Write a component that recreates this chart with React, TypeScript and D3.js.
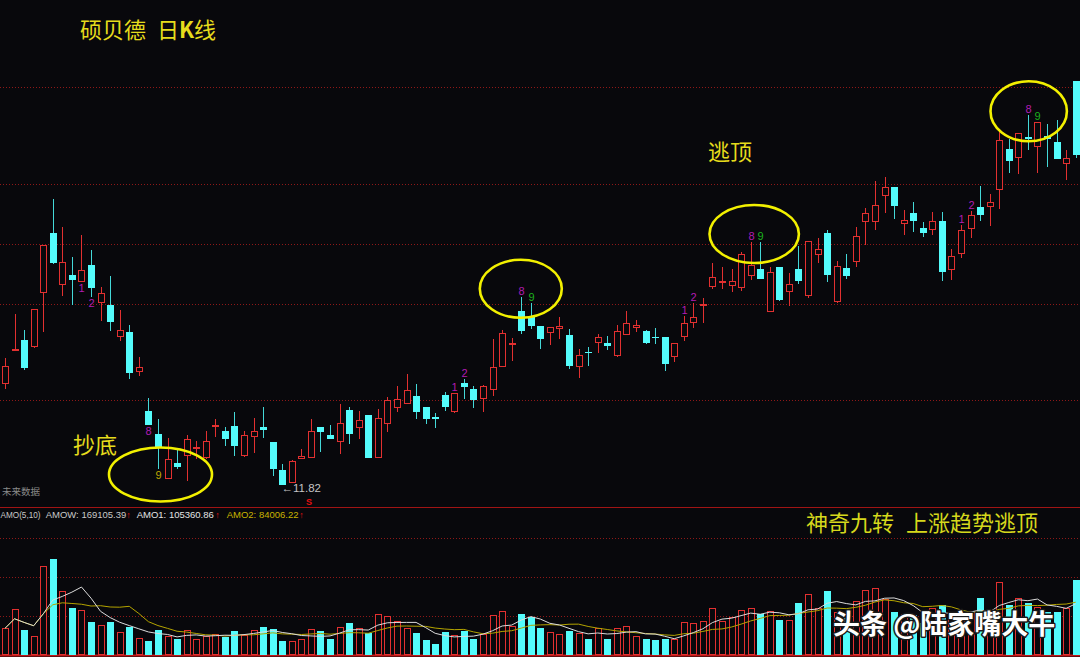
import React from 'react';
import * as d3 from 'd3';

const W = 1080;
const H = 657;

// daily OHLC (yuan), index 0..112
const opens = [15.87,17.18,17.62,17.36,19.50,21.90,19.82,20.23,19.96,20.62,19.10,19.02,17.76,17.95,16.36,14.78,13.87,12.06,12.72,12.99,13.26,12.92,14.15,14.00,14.19,13.00,13.74,14.16,13.54,12.42,11.92,12.86,12.90,14.16,13.82,13.54,14.83,14.12,14.64,12.90,14.26,14.91,15.07,15.38,14.96,14.54,15.43,14.75,15.90,15.66,15.26,15.62,16.56,17.42,18.80,18.60,18.20,17.90,18.08,17.82,16.54,17.15,17.50,17.50,17.00,17.83,18.12,17.98,17.74,17.74,16.94,17.76,18.32,18.98,19.74,19.90,19.80,19.71,20.18,20.48,18.75,20.55,19.55,20.46,19.38,21.02,21.92,19.16,20.52,20.76,22.34,22.36,23.40,23.76,22.26,22.70,22.11,22.04,22.39,20.42,21.08,22.06,22.94,22.94,23.62,25.28,24.90,25.75,25.34,25.79,25.54,24.67,28.00];
const highs = [16.92,18.66,18.04,18.86,21.44,23.26,22.14,20.96,21.82,21.22,19.75,20.19,18.83,18.23,16.94,15.31,14.46,13.72,13.23,13.83,13.59,14.00,14.48,14.16,14.75,14.00,14.52,14.96,13.54,12.67,12.83,13.27,14.46,14.16,14.23,15.07,14.96,14.79,14.64,14.86,15.34,15.79,16.27,15.86,14.96,14.70,15.56,15.50,16.06,15.79,15.83,17.66,18.03,17.70,19.34,19.12,18.20,18.14,18.54,18.07,17.27,17.36,17.86,17.79,18.22,18.78,18.43,18.03,18.11,17.76,17.50,18.58,19.11,19.31,20.70,20.55,20.47,21.16,21.54,21.56,20.56,20.55,20.30,21.40,21.58,21.71,22.03,20.79,21.06,22.16,22.91,23.99,24.15,23.76,22.83,23.14,22.35,22.75,22.75,21.28,22.23,22.80,23.79,23.47,25.96,25.68,25.92,26.63,26.34,26.27,26.43,25.23,28.00];
const lows = [15.66,17.18,16.43,17.32,17.96,20.66,19.39,19.04,19.96,19.36,18.40,17.99,17.60,16.06,16.19,14.23,12.46,12.06,12.46,11.99,12.86,12.86,13.74,13.40,12.99,12.96,13.10,13.70,12.20,11.82,11.92,12.86,12.90,13.16,13.66,13.07,13.46,13.68,12.92,12.90,13.96,14.75,15.07,14.46,14.28,14.12,14.79,14.70,15.26,14.92,14.76,15.40,16.56,16.79,17.86,18.08,17.28,17.44,17.68,16.46,16.12,16.59,17.10,17.23,16.94,17.83,17.96,17.47,17.47,16.40,16.75,17.60,18.12,18.32,19.68,19.67,19.56,19.59,20.02,20.06,18.75,19.19,18.99,19.86,19.30,20.72,19.96,19.10,20.08,20.54,21.44,22.03,22.72,22.46,21.83,21.96,21.74,21.82,20.00,20.03,20.92,21.69,22.40,22.19,22.86,24.30,24.26,25.22,24.32,24.54,24.86,24.03,24.90];
const closes = [16.60,17.26,16.52,18.86,21.44,20.72,20.74,20.03,20.42,19.70,19.52,18.34,18.03,16.31,16.54,14.23,13.30,12.86,12.56,13.66,13.35,13.58,14.24,13.67,13.39,13.82,14.00,14.02,12.48,11.82,12.78,12.98,13.98,13.95,13.68,14.32,13.86,14.44,12.92,14.50,15.23,15.27,15.62,14.75,14.47,14.48,14.95,15.50,15.76,15.23,15.78,16.54,17.90,17.50,17.99,18.18,17.66,18.14,18.19,16.60,17.02,17.10,17.74,17.39,18.00,18.32,18.24,17.52,17.70,16.66,17.50,18.30,18.54,19.06,20.14,19.99,19.98,21.06,20.62,20.06,20.36,19.23,19.87,19.99,21.58,21.28,20.22,20.58,20.18,21.78,22.70,23.02,23.76,22.99,22.43,22.40,21.90,22.39,20.34,20.99,22.04,22.62,22.62,23.14,25.62,24.80,25.92,25.68,26.34,25.66,24.86,24.90,25.03];
// daily turnover amount (10k yuan)
const amounts = [60200,103100,57100,43500,200000,215800,144300,105300,100800,74400,67000,74400,52500,63100,38300,31600,56400,42200,35400,55700,36800,42800,46700,41300,54100,45100,55700,63100,58600,31600,30900,35400,58600,53400,36800,62500,72800,60200,48900,92500,88600,76700,60900,48900,33800,24100,51200,45800,54800,36800,46700,89500,99200,65400,92500,86400,61600,51200,46700,54800,48900,36800,60900,35400,60200,64700,42200,35400,33800,35400,36800,74400,72200,76700,105300,76000,85000,100800,105300,92500,99200,78200,78200,117300,136900,107100,144300,97000,94700,121800,146600,150400,126700,97600,92500,90200,72200,106000,112800,90200,78900,97000,127900,90200,163900,112800,127900,117300,108900,97600,97000,105300,169105];

// horizontal reference levels
const gridPrices = [15.22, 19.08, 21.47, 23.88, 27.76];
const gridAmounts = [88000, 176000, 264000];

// "magic nine" counts
const nineIdx = [8, 9, 15, 16, 47, 48, 54, 55, 71, 72, 78, 79, 100, 101, 107, 108];
const nineText = ['1', '2', '8', '9', '1', '2', '8', '9', '1', '2', '8', '9', '1', '2', '8', '9'];
const nineSide = ['low', 'low', 'low', 'low', 'high', 'high', 'high', 'high', 'high', 'high', 'high', 'high', 'high', 'high', 'high', 'high'];
const nineColor = ['#b21cb2', '#b21cb2', '#b21cb2', '#c0a800', '#b21cb2', '#b21cb2', '#b21cb2', '#1cb21c', '#b21cb2', '#b21cb2', '#b21cb2', '#1cb21c', '#b21cb2', '#b21cb2', '#b21cb2', '#1cb21c'];

const lowIdx = 29;
const lowLabel = '11.82';

const RED = '#e23030';
const CYAN = '#54fcfc';
const BG = '#08080c';
const YEL = '#e6dc1c';

function movingAvg(arr: number[], n: number) {
  return arr.map((_, i) => d3.mean(arr.slice(Math.max(0, i - n + 1), i + 1)) as number);
}

export default function App() {
  const x = d3.scaleLinear().domain([0, opens.length - 1]).range([5, 1075.7]);
  const y = d3.scaleLinear().domain([11.82, 28.0]).range([485.3, 80.7]);
  const yv = d3.scaleLinear().domain([0, 333740]).range([655, 507]);
  const cx = (i: number) => Math.round(x(i)) + 0.5;
  const ma5 = movingAvg(amounts, 5);
  const ma10 = movingAvg(amounts, 10);
  const line = d3.line<number>().x((_, i) => x(i)).y((d) => yv(d));

  const cjk = '"Noto Sans CJK SC", "Noto Sans", sans-serif';
  const latin = '"Liberation Sans", Arial, sans-serif';

  return (
    <svg width={W} height={H} style={{ position: 'absolute', left: 0, top: 0, display: 'block', background: BG }}>
      <rect x={0} y={0} width={W} height={H} fill={BG} />
      {gridPrices.map((g, k) => (
        <line key={'gp' + k} x1={0} x2={W} y1={Math.round(y(g)) + 0.5} y2={Math.round(y(g)) + 0.5} stroke="#8e1818" strokeDasharray="1,2" />
      ))}
      {gridAmounts.map((g, k) => (
        <line key={'ga' + k} x1={0} x2={W} y1={Math.round(yv(g)) + 0.5} y2={Math.round(yv(g)) + 0.5} stroke="#8e1818" strokeDasharray="1,2" />
      ))}
      <line x1={0} x2={W} y1={507.5} y2={507.5} stroke="#a01414" />
      <line x1={0} x2={W} y1={655.5} y2={655.5} stroke="#c01818" strokeWidth={2} />

      {/* candles */}
      {opens.map((o, i) => {
        const c = closes[i];
        const up = c >= o;
        const xc = cx(i);
        const yh = Math.round(y(highs[i]));
        const yl = Math.round(y(lows[i]));
        const yt = Math.round(y(Math.max(o, c)));
        const yb = Math.round(y(Math.min(o, c)));
        if (up) {
          return (
            <g key={'c' + i}>
              {yh < yt && <line x1={xc} x2={xc} y1={yh} y2={yt} stroke={RED} />}
              {yl > yb && <line x1={xc} x2={xc} y1={yb} y2={yl} stroke={RED} />}
              <rect x={xc - 3} y={yt + 0.5} width={6} height={Math.max(0.01, yb - yt - 1)} fill={BG} stroke={RED} />
            </g>
          );
        }
        return (
          <g key={'c' + i}>
            <line x1={xc} x2={xc} y1={yh} y2={yl} stroke="#44d8d8" />
            <rect x={xc - 3.5} y={yt} width={7} height={Math.max(1, yb - yt)} fill={CYAN} />
          </g>
        );
      })}

      {/* magic nine labels */}
      {nineIdx.map((idx, k) => (
        <text key={'n' + k} x={cx(idx)} y={nineSide[k] === 'high' ? y(highs[idx]) - 6 : y(lows[idx]) + 6}
          fill={nineColor[k]} fontSize={11} fontFamily={latin} textAnchor="middle" dominantBaseline="central">{nineText[k]}</text>
      ))}

      {/* lowest price marker */}
      <text x={cx(lowIdx) - 1} y={492} fill="#c4c4c4" fontSize={11.5} fontFamily={latin}>{'←' + lowLabel}</text>
      <text x={309} y={505} fill="#e81010" fontSize={9} fontWeight="bold" fontFamily={latin} textAnchor="middle">S</text>
      <text x={2} y={495} fill="#8a8a8a" fontSize={9.5} fontFamily={cjk}>未来数据</text>

      {/* volume bars */}
      {amounts.map((a, i) => {
        const up = closes[i] >= opens[i];
        const xc = cx(i);
        const yt = Math.round(yv(a));
        return up ? (
          <rect key={'v' + i} x={xc - 3} y={yt + 0.5} width={6} height={654 - yt} fill={BG} stroke={RED} />
        ) : (
          <rect key={'v' + i} x={xc - 3.5} y={yt} width={7} height={655 - yt} fill={CYAN} />
        );
      })}
      <path d={line(ma10) || ''} fill="none" stroke="#b4a400" strokeWidth={1} />
      <path d={line(ma5) || ''} fill="none" stroke="#dcdcdc" strokeWidth={1} />

      {/* volume header */}
      <g fontFamily={latin} fontSize={9.5}>
        <text x={0.5} y={517.5} fill="#c8c8c8" textLength={40} lengthAdjust="spacingAndGlyphs">AMO(5,10)</text>
        <text x={45.7} y={517.5} fill="#c8c8c8">AMOW: 169105.39</text>
        <text x={128.5} y={517.5} fill="#e01010" fontSize={9} textAnchor="middle">↑</text>
        <text x={136.7} y={517.5} fill="#e4e4e4">AMO1: 105360.86</text>
        <text x={217.5} y={517.5} fill="#e01010" fontSize={9} textAnchor="middle">↑</text>
        <text x={226.7} y={517.5} fill="#c8b400">AMO2: 84006.22</text>
        <text x={301.5} y={517.5} fill="#e01010" fontSize={9} textAnchor="middle">↑</text>
      </g>

      {/* ellipses */}
      <g fill="none" stroke="#f2f000" strokeWidth={2.6}>
        <ellipse cx={160.5} cy={474.5} rx={51.5} ry={27} />
        <ellipse cx={520.8} cy={288.8} rx={41} ry={29} />
        <ellipse cx={754.2} cy={234} rx={44.7} ry={29} />
        <ellipse cx={1028.7} cy={111.2} rx={38.2} ry={30} />
      </g>

      {/* annotations */}
      <text x={80} y={38} fill={YEL} fontSize={22} fontFamily={cjk}>
        硕贝德<tspan x={157}>日</tspan><tspan fontWeight="bold">K</tspan>线
      </text>
      <text x={708} y={160} fill={YEL} fontSize={22} fontFamily={cjk}>逃顶</text>
      <text x={73} y={453} fill={YEL} fontSize={22} fontFamily={cjk}>抄底</text>
      <text x={806} y={531} fill="#d6d81c" fontSize={22} fontFamily={cjk}>
        神奇九转<tspan x={906}>上涨趋势逃顶</tspan>
      </text>
      <text x={833} y={634} fill="#ffffff" fontSize={27} fontWeight="bold" fontFamily={cjk}
        stroke="#1a1a1a" strokeWidth={3} paintOrder="stroke" strokeLinejoin="round">头条 @陆家嘴大牛</text>
    </svg>
  );
}
